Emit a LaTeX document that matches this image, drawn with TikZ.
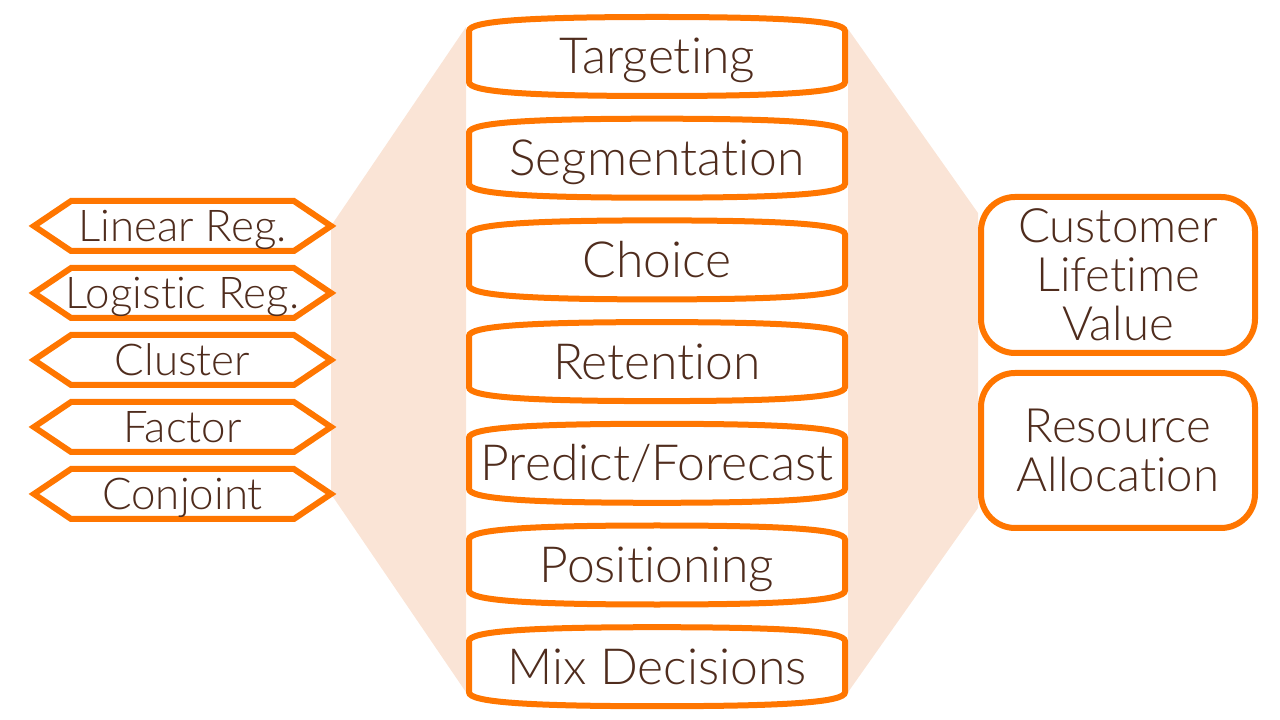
\documentclass[tikz,border=0pt]{standalone}
\usepackage{fontspec}
\setmainfont{Lato}[UprightFont=* Light, Ligatures={NoCommon,NoRare}]
\usepackage{xcolor}
\definecolor{mkorange}{HTML}{FF7600}
\definecolor{mkpeach}{HTML}{FAE4D6}
\definecolor{mkbrown}{HTML}{4F2C1D}
\usetikzlibrary{positioning,shapes.symbols,calc,backgrounds}
\tikzset{
  mb/.style={align=center, text=mkbrown, inner sep=0pt, outer sep=0pt},
  nhex/.style={mb, draw=mkorange, fill=white, line width=6bp, signal,
               signal to=west and east, signal pointer angle=68, inner xsep=-25bp,
               minimum width=297bp, minimum height=50bp,
               font=\fontsize{44}{48}\selectfont, text height=31bp, text depth=0pt},
  ntask/.style={mb, minimum width=376bp, minimum height=79bp,
                font=\fontsize{50}{54}\selectfont, text height=35bp, text depth=0pt},
  nout/.style={mb, draw=mkorange, fill=white, line width=6bp, rounded corners=34bp,
               minimum width=274bp, font=\fontsize{47.5}{49}\selectfont},
  tline/.style={draw=mkorange, fill=white, line width=6bp},
  fan/.style={fill=mkpeach},
}

\begin{document}
\begin{tikzpicture}[x=1bp, y=1bp]
  \useasboundingbox (0,0) rectangle (1280,720);
  % middle column
  \node[ntask] (targ) at (657,663.5) {Targeting};
  \node[ntask, below=22.7bp of targ] (seg) {Segmentation};
  \node[ntask, below=22.7bp of seg] (choice) {Choice};
  \node[ntask, below=22.7bp of choice] (ret) {Retention};
  \node[ntask, below=22.7bp of ret] (pred) {Predict/Forecast};
  \node[ntask, below=22.7bp of pred] (pos) {Positioning};
  \node[ntask, below=22.7bp of pos] (mix) {Mix Decisions};
  % methods
  \node[nhex] (lin) at (182.5,494) {Linear Reg.};
  \node[nhex, below=17bp of lin] (logi) {Logistic Reg.};
  \node[nhex, below=17bp of logi] (clus) {Cluster};
  \node[nhex, below=17bp of clus] (fact) {Factor};
  \node[nhex, below=17bp of fact] (conj) {Conjoint};
  % outcomes
  \node[nout, minimum height=156bp] (clv) at (1118,445) {Customer\\Lifetime\\Value};
  \node[nout, minimum height=155bp, below=20bp of clv] (res) {Resource\\Allocation};

  \begin{scope}[on background layer]
    \fill[fan] (lin.east) -- ($(targ.north west)+(-3,-10)$)
      -- ($(mix.south west)+(-3,14)$) -- (conj.east) -- cycle;
    \fill[fan] ($(targ.north east)+(3,-12)$) -- ($(clv.north west)+(-3,-16)$)
      -- ($(res.south west)+(-3,20)$) -- ($(mix.south east)+(3,14)$) -- cycle;
    \foreach \n in {targ,seg,choice,ret,pred,pos,mix}
      \draw[tline] ($(\n.south west)+(0,14)$) -- ($(\n.north west)+(0,-14)$)
        .. controls +(0,10) and +(-130,0) .. (\n.north)
        .. controls +(130,0) and +(0,10) .. ($(\n.north east)+(0,-14)$)
        -- ($(\n.south east)+(0,14)$)
        .. controls +(0,-10) and +(130,0) .. (\n.south)
        .. controls +(-130,0) and +(0,-10) .. cycle;
  \end{scope}
\end{tikzpicture}
\end{document}
